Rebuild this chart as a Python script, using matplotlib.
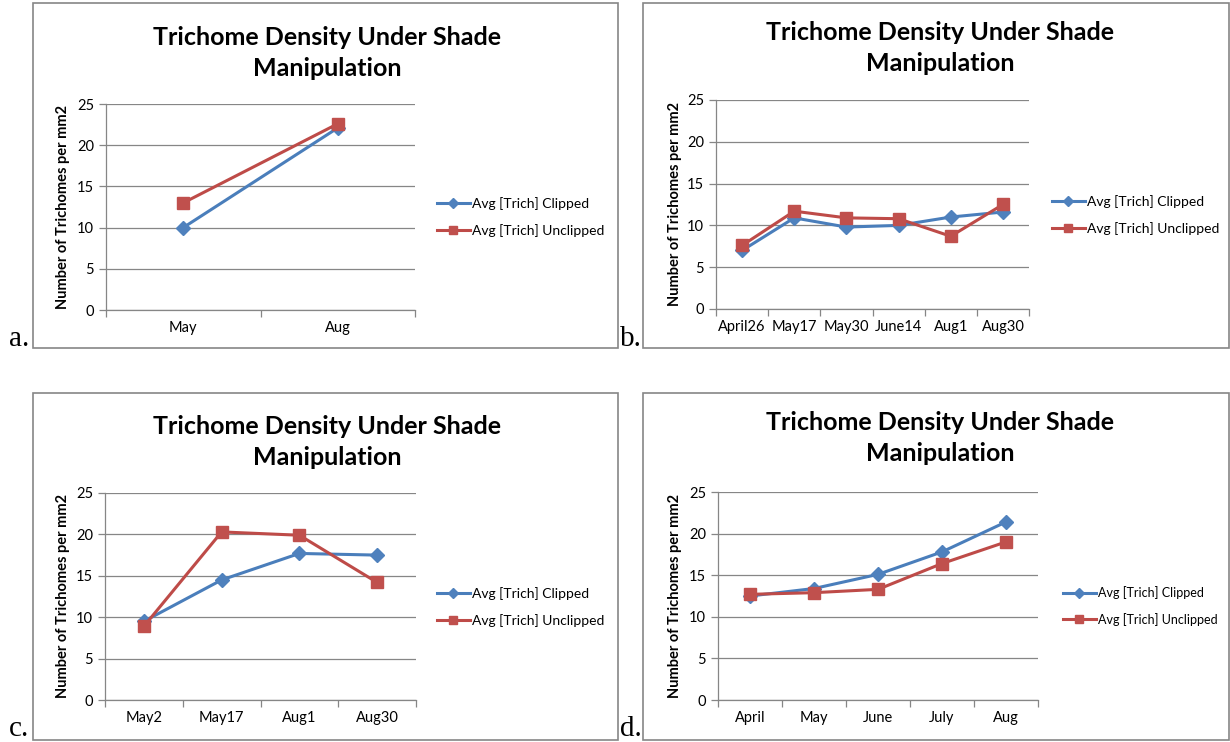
import matplotlib
matplotlib.use("Agg")
import matplotlib.pyplot as plt
from matplotlib.patches import Rectangle

# trichome counts per panel
a_dates = ["May", "Aug"]
a_clipped = [10.0, 22.1]
a_unclipped = [13.0, 22.6]

b_dates = ["April26", "May17", "May30", "June14", "Aug1", "Aug30"]
b_clipped = [7.0, 10.9, 9.8, 10.0, 11.0, 11.6]
b_unclipped = [7.6, 11.7, 10.9, 10.8, 8.7, 12.5]

c_dates = ["May2", "May17", "Aug1", "Aug30"]
c_clipped = [9.5, 14.5, 17.7, 17.5]
c_unclipped = [8.9, 20.3, 19.9, 14.2]

d_dates = ["April", "May", "June", "July", "Aug"]
d_clipped = [12.5, 13.4, 15.1, 17.8, 21.4]
d_unclipped = [12.7, 12.9, 13.3, 16.4, 19.0]

panel_letters = ["a.", "b.", "c.", "d."]

W, H = 1230, 742
BLUE = "#4a7ebb"
BLUE_M = "#4f81bd"
RED = "#be4b48"
RED_M = "#c0504d"
GRID = "#868686"
FONT = "Lato"

fig = plt.figure(figsize=(W / 100, H / 100), dpi=100)


def box(x0, y0, x1, y1):
    # pixel box (top-left origin) -> figure fraction rect
    return [x0 / W, 1 - y1 / H, (x1 - x0) / W, (y1 - y0) / H]


def panel(frame, plot, title_xy, leg_xy, ylab_x, letter_xy, letter,
          dates, clipped, unclipped, leg_size=10):
    fig.add_artist(Rectangle((frame[0] / W, 1 - frame[3] / H),
                             (frame[2] - frame[0]) / W, (frame[3] - frame[1]) / H,
                             transform=fig.transFigure, fill=False,
                             edgecolor=GRID, linewidth=1.2))
    ax = fig.add_axes(box(*plot))
    x = list(range(len(dates)))
    ax.plot(x, clipped, color=BLUE, lw=2.2, marker="D", ms=7,
            mfc=BLUE_M, mec=BLUE_M, label="Avg [Trich] Clipped")
    ax.plot(x, unclipped, color=RED, lw=2.2, marker="s", ms=8.5,
            mfc=RED_M, mec=RED_M, label="Avg [Trich] Unclipped")
    ax.set_xlim(-0.5, len(dates) - 0.5)
    ax.set_ylim(0, 25)
    ax.set_yticks([0, 5, 10, 15, 20, 25])
    ax.yaxis.grid(True, color=GRID, lw=0.9)
    ax.set_axisbelow(True)
    for s in ["top", "right"]:
        ax.spines[s].set_visible(False)
    for s in ["left", "bottom"]:
        ax.spines[s].set_color(GRID)
        ax.spines[s].set_linewidth(0.9)
    # category ticks sit between labels, as in spreadsheet charts
    ax.set_xticks([i - 0.5 for i in range(len(dates) + 1)])
    ax.set_xticklabels([])
    ax.set_xticks(x, minor=True)
    ax.set_xticklabels(dates, minor=True, fontsize=10.5, family=FONT)
    ax.tick_params(axis="x", which="major", length=5, color=GRID, width=0.9)
    ax.tick_params(axis="x", which="minor", length=0, pad=8)
    ax.tick_params(axis="y", length=5, color=GRID, width=0.9, labelsize=10.5)
    for t in ax.get_yticklabels():
        t.set_family(FONT)
    fig.text(title_xy[0] / W, 1 - title_xy[1] / H,
             "Trichome Density Under Shade\nManipulation",
             ha="center", va="center", fontsize=18, fontweight="bold",
             family=FONT, linespacing=1.45)
    fig.text(ylab_x / W, 1 - (plot[1] + plot[3]) / 2 / H,
             "Number of Trichomes per mm2", rotation=90,
             ha="center", va="center", fontsize=10.5, fontweight="bold", family=FONT)
    fig.text(letter_xy[0] / W, 1 - letter_xy[1] / H, letter,
             ha="left", va="baseline", fontsize=21, family="Liberation Serif")
    ax.legend(loc="center left", bbox_to_anchor=(leg_xy[0] / W, 1 - leg_xy[1] / H),
              bbox_transform=fig.transFigure, frameon=False,
              prop={"family": FONT, "size": leg_size},
              handlelength=33 / (leg_size * 1.389), borderpad=0, borderaxespad=0,
              handletextpad=0.15, labelspacing=1.05, markerscale=0.72)
    return ax


panel((33, 3, 618, 348), (106, 104, 415, 310), (327, 53), (437, 217), 63,
      (9, 346), panel_letters[0], a_dates, a_clipped, a_unclipped)
panel((643, 3, 1229, 348), (716, 100, 1029, 309), (940, 48), (1052, 215), 675,
      (620, 346), panel_letters[1], b_dates, b_clipped, b_unclipped)
panel((33, 393, 618, 740), (105, 493, 416, 700), (327, 442), (437, 607), 63,
      (9, 736), panel_letters[2], c_dates, c_clipped, c_unclipped)
panel((643, 393, 1229, 740), (718, 492, 1038, 700), (940, 438), (1063, 606), 675,
      (620, 736), panel_letters[3], d_dates, d_clipped, d_unclipped, leg_size=9)

fig.savefig("out.png", dpi=100)
